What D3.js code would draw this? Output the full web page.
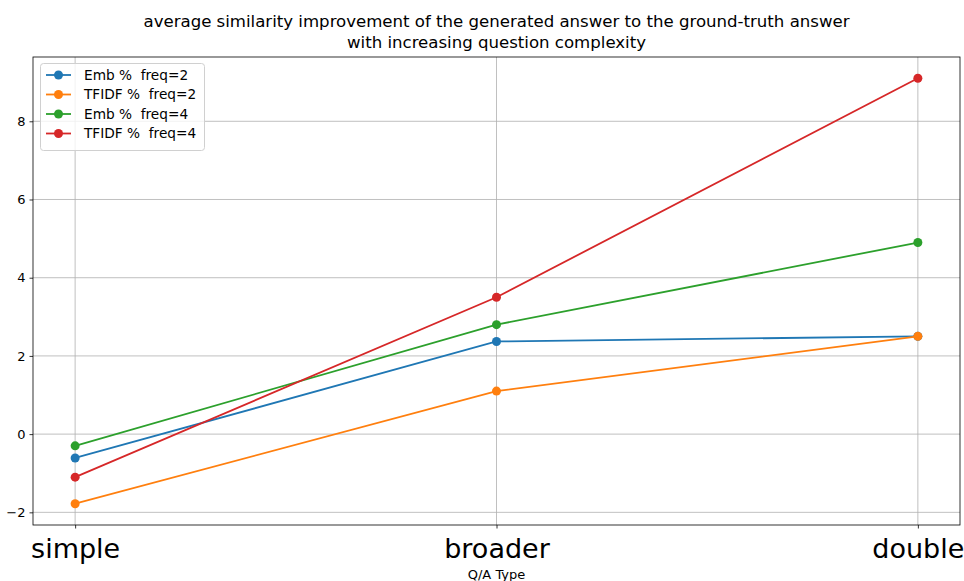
<!DOCTYPE html>
<html><head><meta charset="utf-8">
<script src="https://cdn.jsdelivr.net/npm/d3@7/dist/d3.min.js"></script>
<style>body{margin:0;background:#fff}svg{display:block}text{font-family:"DejaVu Sans",sans-serif}</style>
</head><body><svg id="c" width="964" height="581"></svg>
<script>
const categories = ["simple", "broader", "double"];
const seriesNames = ["Emb %  freq=2", "TFIDF %  freq=2", "Emb %  freq=4", "TFIDF %  freq=4"];
const embFreq2 = [-0.61, 2.37, 2.5];
const tfidfFreq2 = [-1.78, 1.1, 2.5];
const embFreq4 = [-0.3, 2.8, 4.9];
const tfidfFreq4 = [-1.1, 3.5, 9.1];
const yTicks = [-2, 0, 2, 4, 6, 8];
const colors = ["#1f77b4", "#ff7f0e", "#2ca02c", "#d62728"];
const series = [embFreq2, tfidfFreq2, embFreq4, tfidfFreq4];

const svg = d3.select("#c");
const L = 33, R = 960, T = 57, B = 525;
const all = series.flat();
const mn = d3.min(all), mx = d3.max(all), pad = (mx - mn) * 0.05;
const x = d3.scaleLinear().domain([-0.1, 2.1]).range([L, R]);
const y = d3.scaleLinear().domain([mn - pad, mx + pad]).range([B, T]);

// grid
const g = svg.append("g");
categories.forEach((c, i) => g.append("line").attr("x1", x(i)).attr("x2", x(i)).attr("y1", T).attr("y2", B).attr("stroke", "#b0b0b0").attr("stroke-width", 0.8));
yTicks.forEach(t => g.append("line").attr("x1", L).attr("x2", R).attr("y1", y(t)).attr("y2", y(t)).attr("stroke", "#b0b0b0").attr("stroke-width", 0.8));

// axes
const xa = svg.append("g").attr("transform", `translate(0,${B})`)
  .call(d3.axisBottom(x).tickValues([0,1,2]).tickFormat(i => categories[i]).tickSize(3.5).tickPadding(4));
xa.selectAll("text").attr("font-size", 27).attr("fill", "#000").attr("dy", "0.95em");
const ya = svg.append("g").attr("transform", `translate(${L},0)`)
  .call(d3.axisLeft(y).tickValues(yTicks).tickFormat(d => d < 0 ? "\u2212" + Math.abs(d) : d).tickSize(3.5).tickPadding(4));
ya.selectAll("text").attr("font-size", 13).attr("fill", "#000");
[xa, ya].forEach(a => { a.select(".domain").remove(); a.selectAll("line").attr("stroke", "#000").attr("stroke-width", 0.8); });

// lines
const line = d3.line().x((d, i) => x(i)).y(d => y(d));
series.forEach((s, k) => {
  svg.append("path").datum(s).attr("d", line).attr("fill", "none").attr("stroke", colors[k]).attr("stroke-width", 1.8);
  svg.selectAll(null).data(s).enter().append("circle").attr("cx", (d, i) => x(i)).attr("cy", d => y(d)).attr("r", 4.5).attr("fill", colors[k]);
});

// frame
svg.append("rect").attr("x", L).attr("y", T).attr("width", R - L).attr("height", B - T).attr("fill", "none").attr("stroke", "#000").attr("stroke-width", 0.8);

// title
const tl = ["average similarity improvement of the generated answer to the ground-truth answer", "with increasing question complexity"];
svg.append("text").attr("x", (L + R) / 2).attr("y", 27).attr("text-anchor", "middle").attr("font-size", 16).attr("textLength", 706).attr("lengthAdjust", "spacingAndGlyphs").text(tl[0]);
svg.append("text").attr("x", (L + R) / 2).attr("y", 48).attr("text-anchor", "middle").attr("font-size", 16).attr("textLength", 299).attr("lengthAdjust", "spacingAndGlyphs").text(tl[1]);
svg.append("text").attr("x", (L + R) / 2).attr("y", 579).attr("text-anchor", "middle").attr("font-size", 13).text("Q/A Type");

// legend
const lg = svg.append("g");
lg.append("rect").attr("x", 40.5).attr("y", 63.5).attr("width", 164).attr("height", 87).attr("rx", 3).attr("fill", "#fff").attr("fill-opacity", 0.8).attr("stroke", "#d0d0d0");
seriesNames.forEach((n, k) => {
  const yy = 75 + k * 19.5;
  lg.append("line").attr("x1", 46).attr("x2", 71).attr("y1", yy).attr("y2", yy).attr("stroke", colors[k]).attr("stroke-width", 1.8);
  lg.append("circle").attr("cx", 58.5).attr("cy", yy).attr("r", 4.5).attr("fill", colors[k]);
  lg.append("text").attr("x", 84).attr("y", yy + 4.5).attr("font-size", 13.7).attr("xml:space", "preserve").style("white-space", "pre").text(n);
});
</script></body></html>
